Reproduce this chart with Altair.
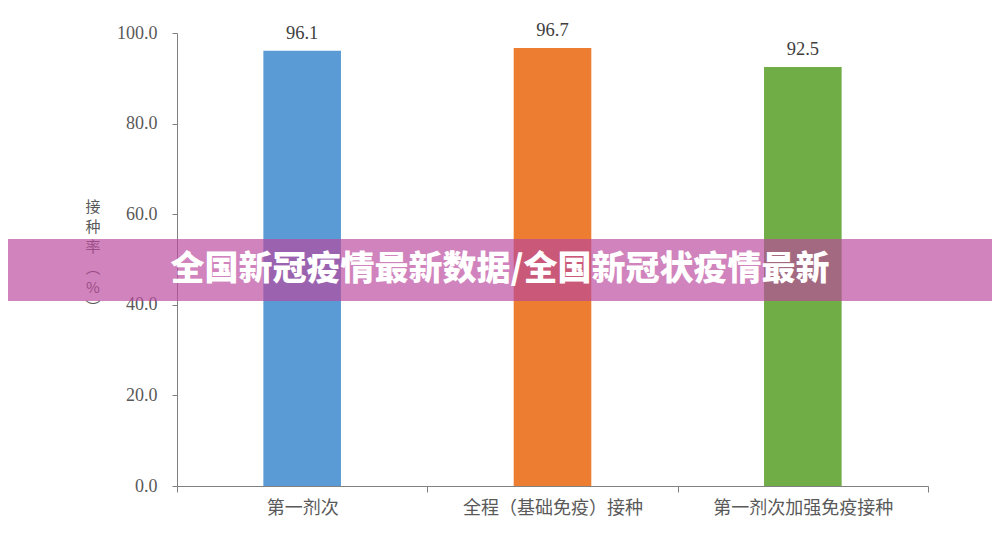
import altair as alt
import pandas as pd

categories = ["第一剂次", "全程（基础免疫）接种", "第一剂次加强免疫接种"]
values = [96.1, 96.7, 92.5]
colors = ["#5B9BD5", "#ED7D31", "#70AD47"]
y_ticks = [0, 20, 40, 60, 80, 100]
y_title = ["接", "种", "率", "︵", "%", "︶"]
banner_text = "全国新冠疫情最新数据/全国新冠状疫情最新"

df = pd.DataFrame({"cat": categories, "val": values, "color": colors})

x_enc = alt.X(
    "cat:N",
    sort=categories,
    scale=alt.Scale(paddingInner=0, paddingOuter=0),
    axis=alt.Axis(
        title=None,
        labelAngle=0,
        labelFont="Noto Sans CJK SC",
        labelFontSize=18,
        labelColor="#595959",
        labelPadding=7,
        tickBand="extent",
        tickSize=6,
        tickColor="#808080",
        domainColor="#808080",
        grid=False,
    ),
)
y_enc = alt.Y(
    "val:Q",
    scale=alt.Scale(domain=[0, 100], nice=False),
    axis=alt.Axis(
        title=None,
        values=y_ticks,
        format=".1f",
        labelFont="Liberation Serif",
        labelFontSize=18,
        labelColor="#595959",
        labelPadding=15,
        tickSize=5,
        tickColor="#808080",
        domainColor="#808080",
        grid=False,
    ),
)

base = alt.Chart(df)
bars = base.mark_bar(width=alt.RelativeBandSize(0.31)).encode(
    x=x_enc,
    y=y_enc,
    color=alt.Color("color:N", scale=None),
)
labels = base.mark_text(
    font="Liberation Serif", fontSize=18.5, color="#404040", baseline="alphabetic", dy=-12
).encode(
    x=alt.X("cat:N", sort=categories),
    y="val:Q",
    text=alt.Text("val:Q", format=".1f"),
)

one = alt.Chart(pd.DataFrame({"k": [0]}))
title_layers = []
for i, ch in enumerate(y_title):
    title_layers.append(
        one.mark_text(
            font="Noto Sans CJK SC", fontSize=15, color="#595959",
            baseline="middle", align="center",
        ).encode(x=alt.value(-84), y=alt.value(174 + 20.2 * i), text=alt.value(ch))
    )

banner = one.mark_rect(color="#BA489C", opacity=0.68).encode(
    x=alt.value(-177), x2=alt.value(823), y=alt.value(206), y2=alt.value(268)
)
banner_label = one.mark_text(
    font="Noto Sans CJK SC", fontSize=34, fontWeight=900, color="white",
    align="center", baseline="middle",
).encode(x=alt.value(323), y=alt.value(237), text=alt.value(banner_text))

chart = alt.layer(bars, labels, *title_layers, banner, banner_label).properties(
    width=751,
    height=453,
    background="white",
    autosize=alt.AutoSizeParams(type="none"),
    padding={"left": 169, "top": 25, "right": 64, "bottom": 46},
).configure_view(stroke=None)

chart.save("out.html", embed_options={"renderer": "svg", "actions": False})
